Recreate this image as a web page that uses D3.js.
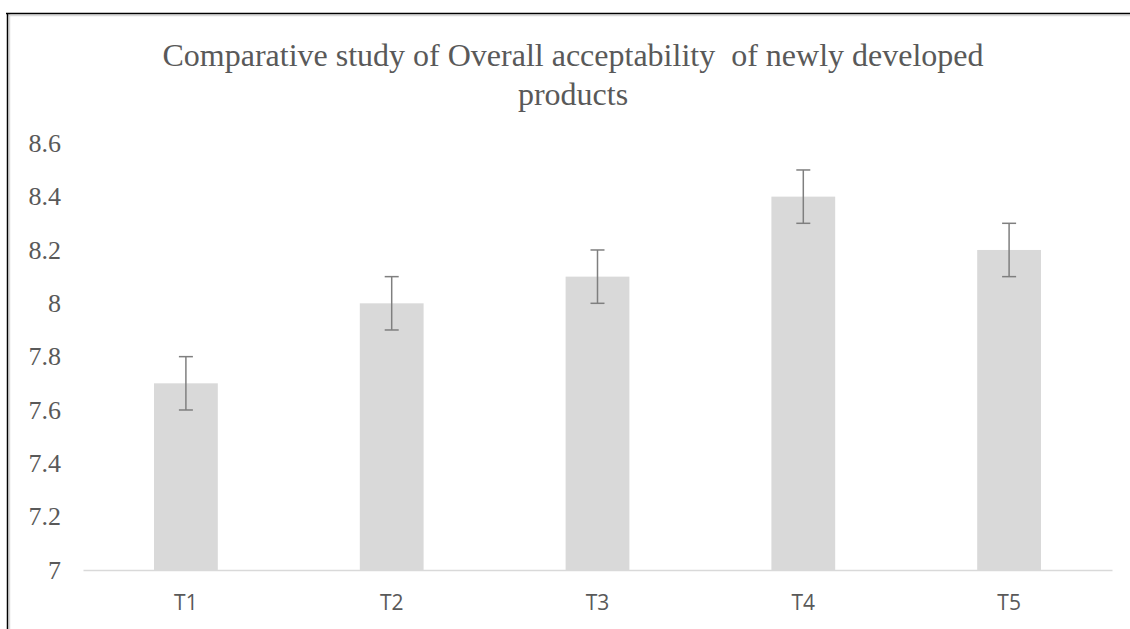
<!DOCTYPE html>
<html>
<head>
<meta charset="utf-8">
<script src="https://cdn.jsdelivr.net/npm/d3@7"></script>
<style>
  body { margin: 0; background: #fff; }
  svg { display: block; }
</style>
</head>
<body>
<div id="chart"></div>
<script>
const categories = ["T1", "T2", "T3", "T4", "T5"];
const means = [7.7, 8.0, 8.1, 8.4, 8.2];
const errors = [0.1, 0.1, 0.1, 0.1, 0.1];
const yTicks = [7, 7.2, 7.4, 7.6, 7.8, 8, 8.2, 8.4, 8.6];
const titleLines = ["Comparative study of Overall acceptability\u00a0 of newly developed", "products"];

const width = 1130, height = 629;
const margin = { left: 83, right: 18, top: 143.3, bottom: 59 };

const svg = d3.select("#chart").append("svg")
    .attr("width", width)
    .attr("height", height);

// frame edges (top + left only are visible)
svg.append("line").attr("x1", 7).attr("x2", width).attr("y1", 15.5).attr("y2", 15.5)
    .attr("stroke", "#d9d9d9").attr("stroke-width", 1.5);
svg.append("line").attr("x1", 9.5).attr("x2", 9.5).attr("y1", 13).attr("y2", height)
    .attr("stroke", "#d9d9d9").attr("stroke-width", 1.5);
svg.append("line").attr("x1", 6).attr("x2", width).attr("y1", 13.5).attr("y2", 13.5)
    .attr("stroke", "#000").attr("stroke-width", 1.5);
svg.append("line").attr("x1", 7.5).attr("x2", 7.5).attr("y1", 13).attr("y2", height)
    .attr("stroke", "#000").attr("stroke-width", 1.5);

const x = d3.scaleBand()
    .domain(categories)
    .range([margin.left, width - margin.right])
    .paddingInner(0.69)
    .paddingOuter(0.345);

const y = d3.scaleLinear()
    .domain([7, 8.6])
    .range([height - margin.bottom, margin.top]);

// title
svg.append("text")
    .attr("x", 573)
    .attr("y", 66)
    .attr("text-anchor", "middle")
    .attr("font-family", "'Liberation Serif', 'Times New Roman', serif")
    .attr("font-size", 32)
    .attr("fill", "#595959")
    .selectAll("tspan")
    .data(titleLines)
    .join("tspan")
    .attr("x", 573)
    .attr("dy", (d, i) => i === 0 ? 0 : 39)
    .text(d => d);

// y axis labels
const yAxis = d3.axisLeft(y).tickValues(yTicks).tickSize(0).tickPadding(22).tickFormat(d3.format("~g"));
const gy = svg.append("g")
    .attr("transform", `translate(${margin.left},0)`)
    .call(yAxis);
gy.select(".domain").remove();
gy.selectAll("text")
    .attr("font-family", "'Liberation Serif', 'Times New Roman', serif")
    .attr("font-size", 26)
    .attr("fill", "#595959");

// bars
svg.append("g").selectAll("rect")
    .data(categories)
    .join("rect")
    .attr("x", d => x(d))
    .attr("y", (d, i) => y(means[i]))
    .attr("width", x.bandwidth())
    .attr("height", (d, i) => y(7) - y(means[i]))
    .attr("fill", "#d9d9d9");

// baseline + x labels
const xAxis = d3.axisBottom(x).tickSize(0).tickPadding(25);
const gx = svg.append("g")
    .attr("transform", `translate(0,${y(7)})`)
    .call(xAxis);
gx.select(".domain").attr("stroke", "#d9d9d9").attr("stroke-width", 1.5);
gx.selectAll("text")
    .attr("font-family", "'Open Sans', 'Liberation Sans', sans-serif")
    .attr("font-size", 21)
    .attr("fill", "#595959");

// error bars
const eb = svg.append("g").attr("stroke", "#7f7f7f").attr("stroke-width", 1.5);
categories.forEach((c, i) => {
    const cx = x(c) + x.bandwidth() / 2;
    const hi = y(means[i] + errors[i]);
    const lo = y(means[i] - errors[i]);
    eb.append("line").attr("x1", cx).attr("x2", cx).attr("y1", hi).attr("y2", lo);
    eb.append("line").attr("x1", cx - 7).attr("x2", cx + 7).attr("y1", hi).attr("y2", hi);
    eb.append("line").attr("x1", cx - 7).attr("x2", cx + 7).attr("y1", lo).attr("y2", lo);
});
</script>
</body>
</html>
